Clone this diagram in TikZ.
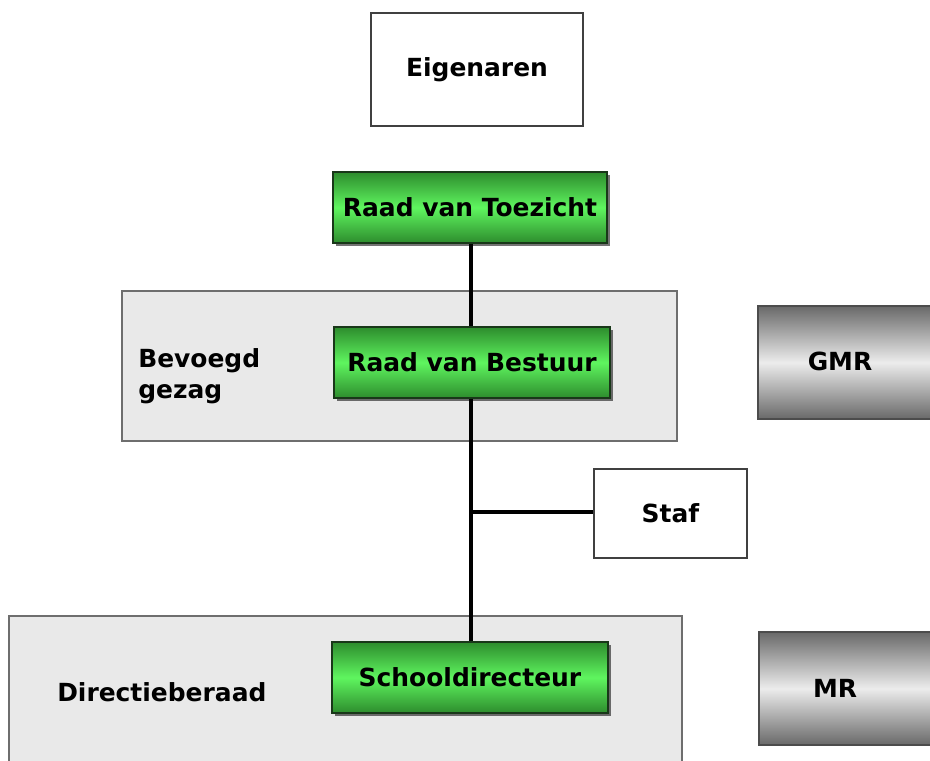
\documentclass[tikz,border=0pt]{standalone}
\usepackage{fontspec}
\setmainfont{DejaVu Sans}
\usetikzlibrary{shadows}
\definecolor{gdark}{RGB}{45,140,45}
\definecolor{glight}{RGB}{95,245,95}
\definecolor{gborder}{RGB}{25,55,25}
\definecolor{regionfill}{RGB}{233,233,233}
\definecolor{regionborder}{RGB}{110,110,110}
\definecolor{mdark}{RGB}{105,105,105}
\definecolor{mlight}{RGB}{236,236,236}
\tikzset{
  base/.style={font=\fontsize{18.7}{23}\selectfont\bfseries, inner sep=0pt},
  greenbox/.style={base, draw=gborder, line width=1pt, top color=gdark, bottom color=gdark, middle color=glight,
    drop shadow={shadow xshift=2.5pt, shadow yshift=-2.5pt, opacity=0.55, fill=black}},
  whitebox/.style={base, draw=black!75, line width=0.8pt, fill=white},
  region/.style={draw=regionborder, line width=0.9pt, fill=regionfill, inner sep=0pt},
  graybox/.style={draw=black!70, line width=0.8pt, top color=mdark, bottom color=mdark, middle color=mlight, inner sep=0pt},
  lbl/.style={base, align=left},
  conn/.style={line width=2.4pt, black}
}
\begin{document}
\begin{tikzpicture}[x=0.75pt,y=-0.75pt]
\useasboundingbox (0,0) rectangle (930,760);
\clip (0,0) rectangle (930,760);
% regions
\node[region, minimum width=555*0.75pt, minimum height=150*0.75pt] (bg) at (399.5,366) {};
\node[region, minimum width=673*0.75pt, minimum height=160*0.75pt] (dir) at (345.5,696) {};
% boxes
\node[whitebox, minimum width=212*0.75pt, minimum height=113*0.75pt] (eig) at (477,69.5) {Eigenaren};
\node[greenbox, minimum width=274*0.75pt, minimum height=71*0.75pt] (rvt) at (470,207.5) {Raad van Toezicht};
\node[greenbox, minimum width=276*0.75pt, minimum height=71*0.75pt] (rvb) at (472,362.5) {Raad van Bestuur};
\node[whitebox, minimum width=153*0.75pt, minimum height=89*0.75pt] (staf) at (670.5,513.5) {Staf};
\node[greenbox, minimum width=276*0.75pt, minimum height=71*0.75pt] (sd) at (470,677.5) {Schooldirecteur};
\node[graybox, minimum width=182*0.75pt, minimum height=113*0.75pt] (gmr) at (849,362.5) {};
\node[base] (gmrl) at (840,361) {GMR};
\node[graybox, minimum width=182*0.75pt, minimum height=113*0.75pt] (mr) at (850,688.5) {};
\node[base] (mrl) at (835,688) {MR};
% region labels
\node[lbl, anchor=west] (bgl) at (138,376) {Bevoegd\\gezag};
\node[lbl, anchor=west] (dirl) at (57,692) {Directieberaad};
% connectors
\coordinate (j) at (471,512);
\draw[conn] (rvt.south -| j) -- (rvb.north -| j);
\draw[conn] (rvb.south -| j) -- (sd.north -| j);
\draw[conn] (j) -- (j -| staf.west);
\end{tikzpicture}
\end{document}
